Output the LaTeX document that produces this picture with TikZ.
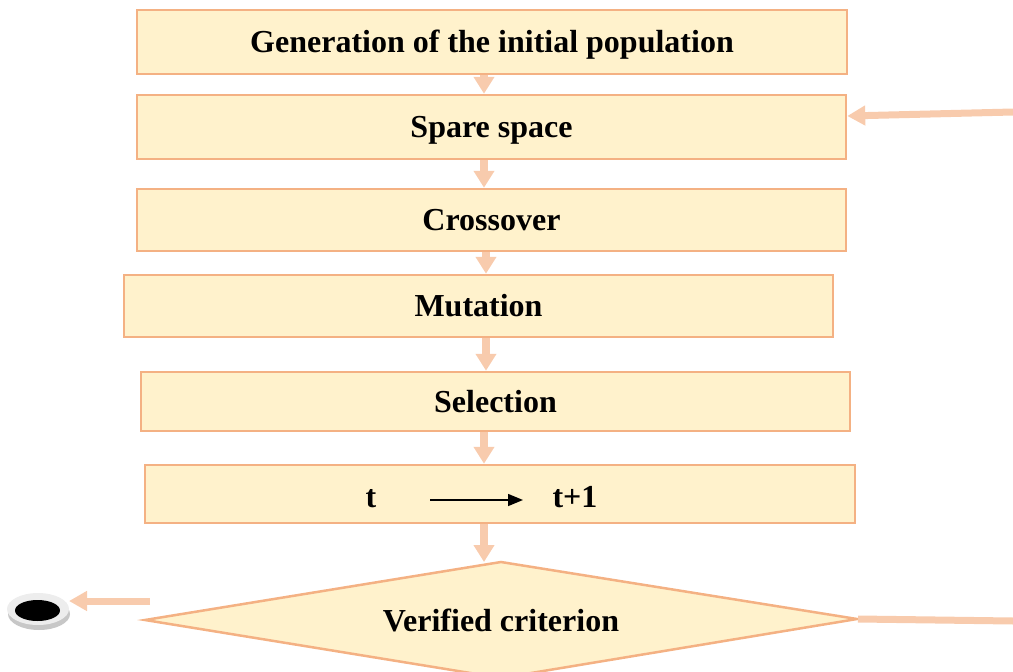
\documentclass[tikz,border=0pt]{standalone}
\usepackage{fontspec}
\setmainfont{Liberation Serif}
\usetikzlibrary{arrows.meta}
\definecolor{boxfill}{HTML}{FFF2CC}
\definecolor{boxline}{HTML}{F4B183}
\definecolor{flow}{HTML}{F8CBAD}
\begin{document}
\begin{tikzpicture}[x=1pt,y=-1pt,
  txt/.style={font=\fontsize{32}{36}\selectfont\bfseries, inner sep=0pt,
    text height=21pt, text depth=0pt},
  stepbox/.style={txt, draw=boxline, fill=boxfill, line width=2.5pt,
    minimum width=709pt, minimum height=63pt},
  flowarrow/.style={draw=flow, line width=8pt, -{Triangle[width=20pt,length=17pt]}},
  hflow/.style={draw=flow, line width=7pt, -{Triangle[width=19pt,length=18pt]}},
  flowline/.style={draw=flow, line width=7pt}]
\useasboundingbox (0,0) rectangle (1013,672);

% process boxes
\node[stepbox, minimum width=710pt, minimum height=64pt] (gen) at (492,42) {Generation of the initial population};
\node[stepbox, minimum height=64pt] (spare) at (491.5,127) {Spare space};
\node[stepbox, minimum height=62pt] (cross) at (491.5,220) {Crossover};
\node[stepbox, minimum height=62pt] (mut) at (478.5,306) {Mutation};
\node[stepbox, minimum height=59pt] (sel) at (495.5,401.5) {Selection};
\node[stepbox, minimum width=710pt, minimum height=58pt] (iter) at (500,494) {};
\node[txt] (tA) at (371,497) {t};
\node[txt] (tB) at (575,497) {t+1};
\draw[line width=1.5pt, -{Triangle[width=12pt,length=15pt]}]
  ([yshift=-3pt]tA.center) ++(59,0) coordinate (tAr) -- (tAr -| 523,0);

% decision diamond
\coordinate (dL) at (145,620);
\coordinate (dT) at (501,562);
\coordinate (dR) at (857,619);
\coordinate (dB) at (501,678);
\draw[draw=boxline, fill=boxfill, line width=2.5pt, line join=miter] (dL) -- (dT) -- (dR) -- (dB) -- cycle;
\node[txt] (crit) at (501,621) {Verified criterion};

% flow between steps
\draw[flowarrow] ([xshift=-8pt]gen.south) -- ([xshift=-8pt]gen.south |- spare.north);
\draw[flowarrow] ([xshift=-7.5pt]spare.south) -- ([xshift=-7.5pt]spare.south |- cross.north);
\draw[flowarrow] ([xshift=-5.5pt]cross.south) -- ([xshift=-5.5pt]cross.south |- mut.north);
\draw[flowarrow] ([xshift=7.5pt]mut.south) -- ([xshift=7.5pt]mut.south |- sel.north);
\draw[flowarrow] ([xshift=-11.5pt]sel.south) -- ([xshift=-11.5pt]sel.south |- iter.north);
\draw[flowarrow] ([xshift=-16pt]iter.south) -- ([xshift=-16pt]iter.south |- dT);

% loop back and exit
\coordinate (loopIn) at (1013,112);
\coordinate (loopOut) at (1013,621);
\draw[hflow] (loopIn) -- ([yshift=11pt]spare.east);
\draw[flowline] (dR) ++(1,0) -- (loopOut);

% end state
\coordinate (exitStart) at (150,601);
\coordinate (stop) at (69,601);
\fill[black!22] (39,614) ellipse [x radius=31, y radius=16];
\fill[black!7] (38,609) ellipse [x radius=31, y radius=16];
\fill[black] (37.5,610.5) ellipse [x radius=22.5, y radius=10.5];
\draw[hflow] (exitStart) -- (stop);
\end{tikzpicture}
\end{document}
